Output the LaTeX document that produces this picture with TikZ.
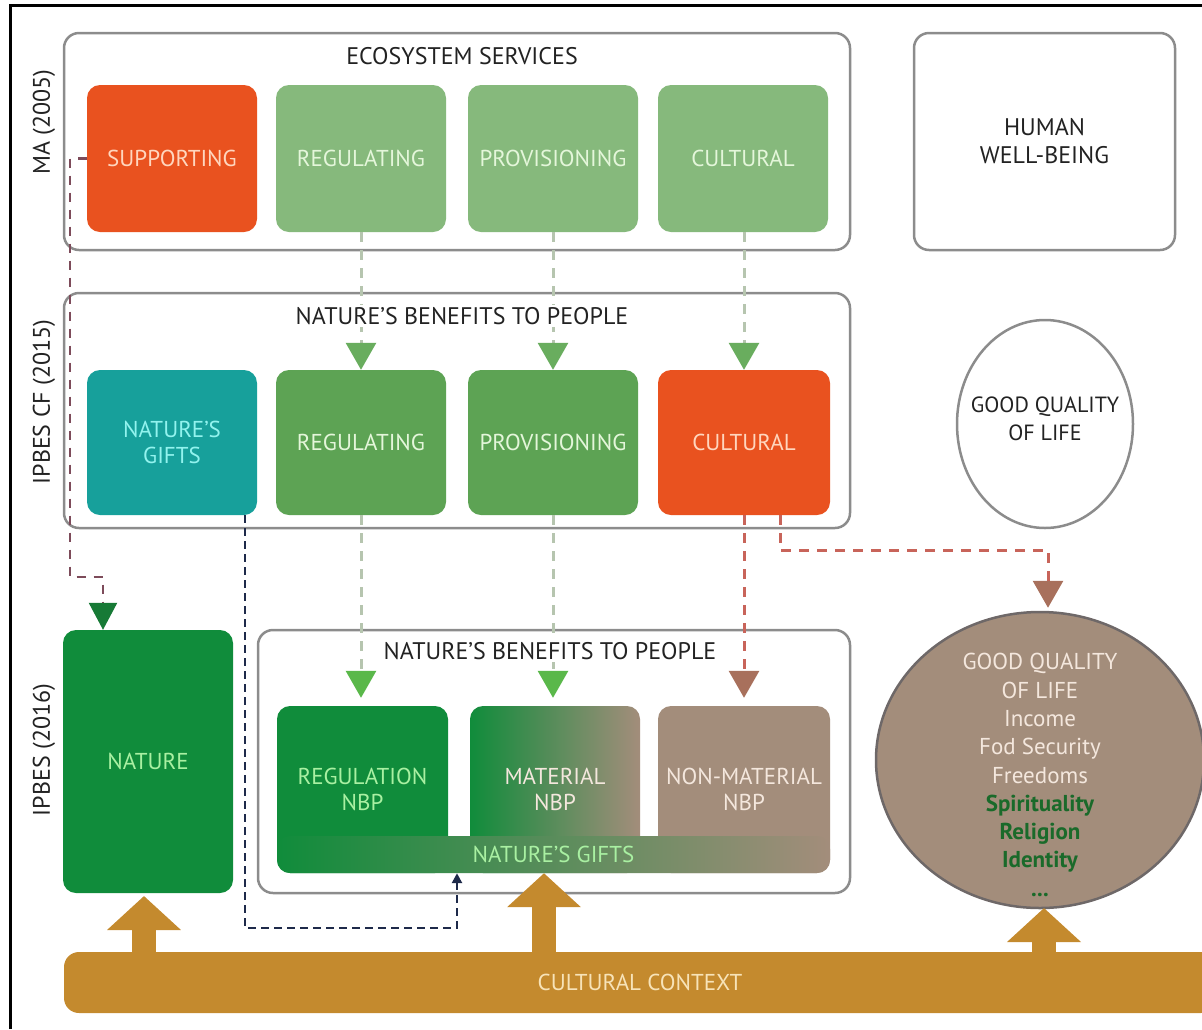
\documentclass[tikz,border=0pt]{standalone}
\usepackage{fontspec}
\setmainfont{PT Sans}
\usetikzlibrary{arrows.meta,shapes.geometric}

\definecolor{framegray}{HTML}{8C8C8C}
\definecolor{titleblack}{HTML}{222222}
\definecolor{suporange}{HTML}{E9521F}
\definecolor{lightgreen}{HTML}{86B97C}
\definecolor{midgreen}{HTML}{5DA354}
\definecolor{teal}{HTML}{17A09B}
\definecolor{darkgreen}{HTML}{108C3B}
\definecolor{nbpbrown}{HTML}{A38D7B}
\definecolor{olive}{HTML}{6F8258}
\definecolor{gold}{HTML}{C48A2E}
\definecolor{txtorange}{HTML}{FFD6BE}
\definecolor{txtlgreen}{HTML}{E4F6DA}
\definecolor{txtteal}{HTML}{92F3EE}
\definecolor{txtdgreen}{HTML}{A9F0A2}
\definecolor{txtbrown}{HTML}{F4E7DD}
\definecolor{txtgold}{HTML}{F7E3B8}
\definecolor{qolgreen}{HTML}{1A6A2A}
\definecolor{dashgreen}{HTML}{B6C5AF}
\definecolor{tipgreenA}{HTML}{69AD5E}
\definecolor{tipgreenB}{HTML}{5AB84A}
\definecolor{dashred}{HTML}{C8645A}
\definecolor{tipbrown}{HTML}{A8705C}
\definecolor{dashplum}{HTML}{7D4B5A}
\definecolor{tipdkgreen}{HTML}{177A36}
\definecolor{navy}{HTML}{1E2A4A}
\definecolor{ellborder}{HTML}{6E6868}

\begin{document}
\begin{tikzpicture}[x=1pt,y=-1pt,
  panel/.style={draw=framegray, line width=2.5pt, rounded corners=15pt, fill=white, inner sep=0pt},
  tile/.style={rounded corners=13pt, inner sep=0pt, minimum width=170pt, align=center,
               font=\fontsize{23}{26}\selectfont},
  heading/.style={text=titleblack, fill=white, font=\fontsize{24}{26}\selectfont, inner sep=2pt, align=center},
  sidelabel/.style={text=titleblack, font=\fontsize{24}{26}\selectfont, rotate=90, inner sep=0pt},
  gdash/.style={draw=dashgreen, line width=3pt, dash pattern=on 10pt off 8pt,
                -{Triangle[width=30pt,length=27pt,color=#1]}},
  rdash/.style={draw=dashred, line width=3pt, dash pattern=on 10pt off 8pt,
                -{Triangle[width=30pt,length=27pt,color=tipbrown]}},
  pdash/.style={draw=dashplum, line width=2.5pt, dash pattern=on 9pt off 8pt,
                -{Triangle[width=28pt,length=27pt,color=tipdkgreen]}},
  ndash/.style={draw=navy, line width=2.5pt, dash pattern=on 8pt off 5pt,
                -{Triangle[width=10pt,length=10pt,color=navy]}},
  uparrow/.style={draw=gold, line width=24pt, -{Triangle[width=72pt,length=34pt,color=gold]}}
]
\useasboundingbox (0,0) rectangle (1202,1029);

% outer frame lines
\draw[line width=3pt, black] (10,1029) -- (10,5) -- (1202,5);

% ---- panels ----
\node[panel, minimum width=786pt, minimum height=217pt] (ma) at (457,141.5) {};
\node[panel, minimum width=261pt, minimum height=217pt, align=center, text=titleblack,
      font=\fontsize{24}{28}\selectfont] (hwb) at (1044.5,141.5) {HUMAN\\WELL-BEING};
\node[panel, minimum width=786pt, minimum height=235pt] (cf) at (457,410.5) {};
\node[panel, minimum width=592pt, minimum height=263pt] (nbp) at (554,761.5) {};

% ---- side labels ----
\node[sidelabel] (lab-ma) at (44,122) {MA (2005)};
\node[sidelabel] (lab-cf) at (44,402) {IPBES CF (2015)};
\node[sidelabel] (lab-ipbes) at (44,750) {IPBES (2016)};

% ---- MA (2005) row ----
\node[tile, minimum height=147pt, fill=suporange, text=txtorange] (ma-sup) at (172,158.5) {SUPPORTING};
\node[tile, minimum height=147pt, fill=lightgreen, text=txtlgreen] (ma-reg) at (361,158.5) {REGULATING};
\node[tile, minimum height=147pt, fill=lightgreen, text=txtlgreen] (ma-pro) at (553,158.5) {PROVISIONING};
\node[tile, minimum height=147pt, fill=lightgreen, text=txtlgreen] (ma-cul) at (743,158.5) {CULTURAL};

% ---- IPBES CF (2015) row ----
\node[tile, minimum height=145pt, fill=teal, text=txtteal] (cf-gifts) at (172,442.5) {NATURE'S\\GIFTS};
\node[tile, minimum height=145pt, fill=midgreen, text=txtlgreen] (cf-reg) at (361,442.5) {REGULATING};
\node[tile, minimum height=145pt, fill=midgreen, text=txtlgreen] (cf-pro) at (553,442.5) {PROVISIONING};
\node[tile, minimum height=145pt, minimum width=172pt, fill=suporange, text=txtorange] (cf-cul) at (744,442.5) {CULTURAL};

% ---- quality of life (outline) ----
\node[ellipse, draw=framegray, line width=2.5pt, fill=white, minimum width=176pt, minimum height=208pt,
      inner sep=0pt] (gql1) at (1045,424) {};
\node[align=center, inner sep=0pt, text=titleblack, font=\fontsize{22}{28}\selectfont] (gql1-text) at (1045,419)
      {GOOD QUALITY\\OF LIFE};

% ---- IPBES (2016) row ----
\node[tile, minimum height=263pt, fill=darkgreen, text=txtdgreen] (nature) at (148,761.5) {NATURE};
\node[tile, minimum height=167pt, minimum width=171pt, fill=darkgreen, text=txtdgreen] (nbp-reg) at (362.5,789.5) {REGULATION\\NBP};
\node[tile, minimum height=167pt, left color=darkgreen, right color=nbpbrown, text=txtbrown] (nbp-mat) at (555,789.5) {MATERIAL\\NBP};
\node[tile, minimum height=167pt, minimum width=172pt, fill=nbpbrown, text=txtbrown] (nbp-non) at (744,789.5) {NON-MATERIAL\\NBP};
\node[rounded corners=13pt, inner sep=0pt, minimum width=553pt, minimum height=37pt,
      left color=darkgreen, middle color=olive, right color=nbpbrown,
      text=txtdgreen, font=\fontsize{23}{26}\selectfont] (gifts) at (553.5,854.5) {NATURE'S GIFTS};

% ---- quality of life (filled) ----
\node[ellipse, draw=ellborder, line width=2.5pt, fill=nbpbrown, minimum width=328pt, minimum height=296pt,
      inner sep=0pt] (gql2) at (1040,760) {};
\node[align=center, inner sep=0pt, text=txtbrown, font=\fontsize{23}{28.3}\selectfont] (gql2-text) at (1040,775)
  {GOOD QUALITY\\OF LIFE\\Income\\Fod Security\\Freedoms\\
   \textcolor{qolgreen}{\bfseries Spirituality}\\\textcolor{qolgreen}{\bfseries Religion}\\
   \textcolor{qolgreen}{\bfseries Identity}\\\textcolor{qolgreen}{\bfseries ...}};

% ---- cultural context ----
\node[rounded corners=15pt, inner sep=0pt, minimum width=1152pt, minimum height=61pt, fill=gold,
      text=txtgold, font=\fontsize{23}{26}\selectfont] (ctx) at (640,982.5) {CULTURAL CONTEXT};

% ---- connectors: MA -> IPBES CF ----
\draw[gdash=tipgreenA] (ma-reg.south) -- (cf-reg.north);
\draw[gdash=tipgreenA] (ma-pro.south) -- (cf-pro.north);
\draw[gdash=tipgreenA] (ma-cul.south -| cf-cul) -- (cf-cul.north);

% ---- connectors: IPBES CF -> IPBES ----
\draw[gdash=tipgreenB, shorten >=8pt] (cf-reg.south) -- (cf-reg.south |- nbp-reg.north);
\draw[gdash=tipgreenB, shorten >=8pt] (cf-pro.south) -- (cf-pro.south |- nbp-mat.north);
\draw[rdash, shorten >=8pt] (cf-cul.south) -- (nbp-non.north);

% cultural -> good quality of life
\coordinate (qbend) at (1048,550);
\draw[rdash, shorten >=3pt] ([xshift=36pt]cf-cul.south) |- (qbend) -- (qbend |- gql2.north);

% supporting -> nature
\coordinate (s1) at (70,158.5);
\coordinate (s2) at (70,577);
\coordinate (s3) at (103,577);
\draw[pdash] (ma-sup.west) -- (s1) -- (s2) -- (s3) -- (s3 |- nature.north);

% nature's gifts (2015) -> nature's gifts (2016)
\coordinate (g1) at (245,928);
\coordinate (g2) at (457,928);
\draw[ndash] (cf-gifts.south -| g1) -- (g1) -- (g2) -- (g2 |- gifts.south);

% ---- panel headings, set over the dashed connectors ----
\node[heading] (h-es) at (462,56) {ECOSYSTEM SERVICES};
\node[heading] (h-cf) at (462,316) {NATURE'S BENEFITS TO PEOPLE};
\node[heading] (h-nbp) at (550,651) {NATURE'S BENEFITS TO PEOPLE};

% ---- cultural context arrows ----
\coordinate (tip1) at (144,896);
\coordinate (tip2) at (544,873);
\coordinate (tip3) at (1044,908);
\draw[uparrow] ([yshift=-10pt]ctx.north -| tip1) -- (tip1);
\draw[uparrow] ([yshift=-10pt]ctx.north -| tip2) -- (tip2 |- gifts.south);
\draw[uparrow] ([yshift=-10pt]ctx.north -| tip3) -- (tip3);
\end{tikzpicture}
\end{document}
